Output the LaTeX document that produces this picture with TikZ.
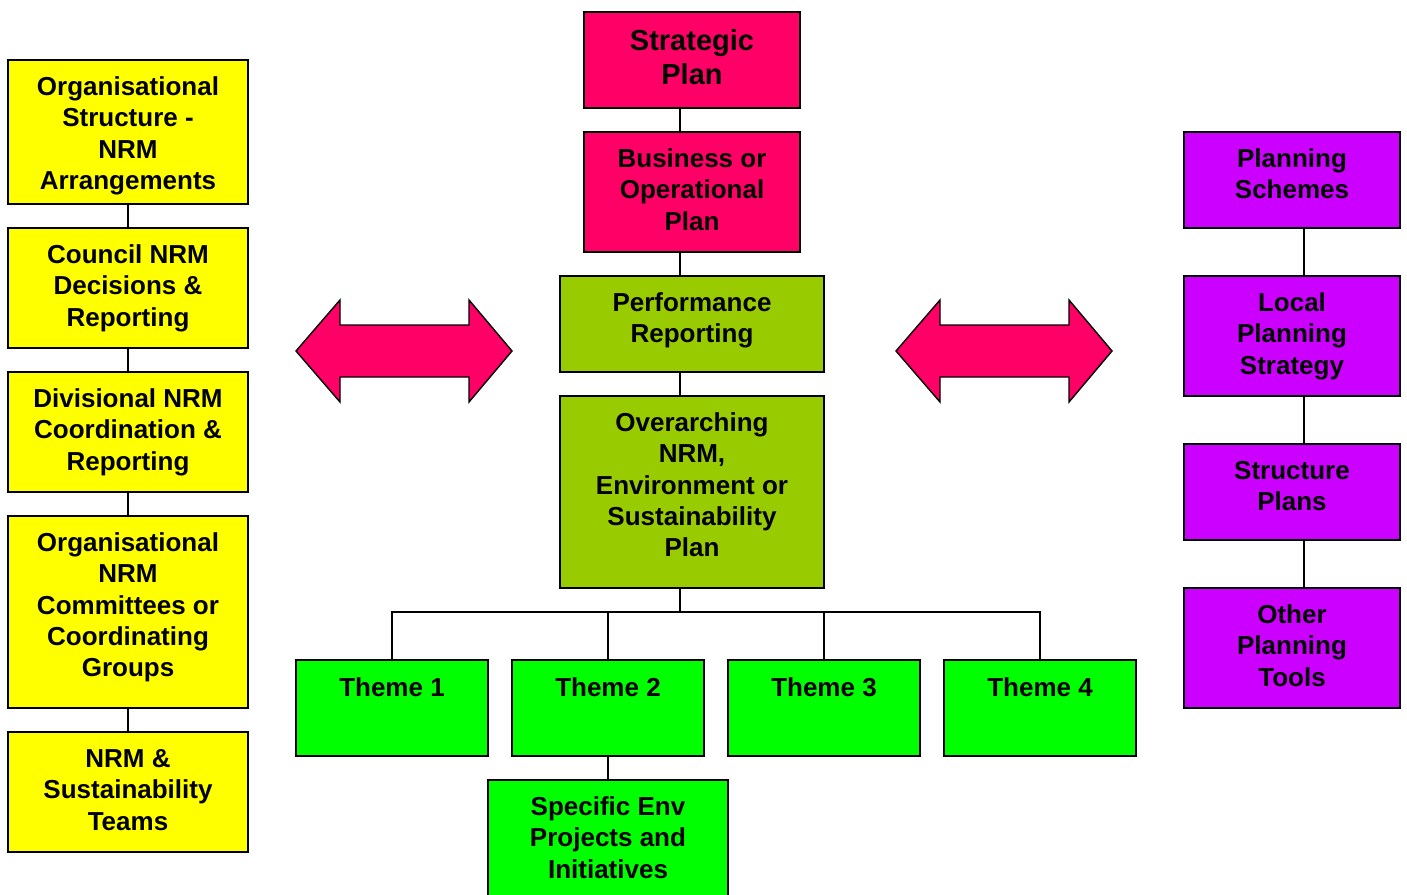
\documentclass[tikz,border=0pt]{standalone}
\usepackage{fontspec}
\setmainfont{Liberation Sans}
\definecolor{cyel}{HTML}{FFFF00}
\definecolor{cpink}{HTML}{FF0066}
\definecolor{colive}{HTML}{99CC00}
\definecolor{cgreen}{HTML}{00FF00}
\definecolor{cpurp}{HTML}{CC00FF}
\newcommand{\firstrule}{\rule{0pt}{20pt}}
\newcommand{\firstrulebig}{\rule{0pt}{22pt}}
\begin{document}
\begin{tikzpicture}[x=1pt,y=-1pt,
  box/.style={draw=black, line width=1.4pt, anchor=north west, inner sep=0pt, outer sep=0pt},
  txt/.style={anchor=north, align=center, inner sep=0pt, font=\fontsize{26}{31.2}\selectfont\bfseries},
  bigtxt/.style={anchor=north, align=center, inner sep=0pt, font=\fontsize{29}{34.5}\selectfont\bfseries},
  conn/.style={draw=black, line width=1.4pt},
  dbl/.style={draw=black, line width=1.4pt, fill=cpink, line join=miter}]
\useasboundingbox[fill=white] (0,0) rectangle (1407,894);

% left column
\node[box, fill=cyel, minimum width=240pt, minimum height=144pt] (o1) at (8,60) {};
\node[box, fill=cyel, minimum width=240pt, minimum height=120pt] (o2) at (8,228) {};
\node[box, fill=cyel, minimum width=240pt, minimum height=120pt] (o3) at (8,372) {};
\node[box, fill=cyel, minimum width=240pt, minimum height=192pt] (o4) at (8,516) {};
\node[box, fill=cyel, minimum width=240pt, minimum height=120pt] (o5) at (8,732) {};
\node[txt] (o1t) at ([yshift=-15.5pt]o1.north) {\firstrule Organisational\\Structure -\\NRM\\Arrangements};
\node[txt] (o2t) at ([yshift=-15.5pt]o2.north) {\firstrule Council NRM\\Decisions \&\\Reporting};
\node[txt] (o3t) at ([yshift=-15.5pt]o3.north) {\firstrule Divisional NRM\\Coordination \&\\Reporting};
\node[txt] (o4t) at ([yshift=-15.5pt]o4.north) {\firstrule Organisational\\NRM\\Committees or\\Coordinating\\Groups};
\node[txt] (o5t) at ([yshift=-15.5pt]o5.north) {\firstrule NRM \&\\Sustainability\\Teams};
\draw[conn] (o1.south) -- (o2.north);
\draw[conn] (o2.south) -- (o3.north);
\draw[conn] (o3.south) -- (o4.north);
\draw[conn] (o4.south) -- (o5.north);

% centre column
\node[box, fill=cpink, minimum width=216pt, minimum height=96pt] (sp) at (584,12) {};
\node[box, fill=cpink, minimum width=216pt, minimum height=120pt] (bo) at (584,132) {};
\node[box, fill=colive, minimum width=264pt, minimum height=96pt] (pr) at (560,276) {};
\node[box, fill=colive, minimum width=264pt, minimum height=192pt] (ov) at (560,396) {};
\node[bigtxt] (spt) at ([yshift=-16pt]sp.north) {\firstrulebig Strategic\\Plan};
\node[txt] (bot) at ([yshift=-15.5pt]bo.north) {\firstrule Business or\\Operational\\Plan};
\node[txt] (prt) at ([yshift=-15.5pt]pr.north) {\firstrule Performance\\Reporting};
\node[txt] (ovt) at ([yshift=-15.5pt]ov.north) {\firstrule Overarching\\NRM,\\Environment or\\Sustainability\\Plan};
\draw[conn] ([xshift=-12pt]sp.south) -- ([xshift=-12pt]bo.north);
\draw[conn] ([xshift=-12pt]bo.south) -- ([xshift=-12pt]pr.north);
\draw[conn] ([xshift=-12pt]pr.south) -- ([xshift=-12pt]ov.north);

% themes
\node[box, fill=cgreen, minimum width=192pt, minimum height=96pt] (t1) at (296,660) {};
\node[box, fill=cgreen, minimum width=192pt, minimum height=96pt] (t2) at (512,660) {};
\node[box, fill=cgreen, minimum width=192pt, minimum height=96pt] (t3) at (728,660) {};
\node[box, fill=cgreen, minimum width=192pt, minimum height=96pt] (t4) at (944,660) {};
\node[box, fill=cgreen, minimum width=240pt, minimum height=120pt] (se) at (488,780) {};
\node[txt] (t1t) at ([yshift=-16pt]t1.north) {\firstrule Theme 1};
\node[txt] (t2t) at ([yshift=-16pt]t2.north) {\firstrule Theme 2};
\node[txt] (t3t) at ([yshift=-16pt]t3.north) {\firstrule Theme 3};
\node[txt] (t4t) at ([yshift=-16pt]t4.north) {\firstrule Theme 4};
\node[txt] (set) at ([yshift=-15.5pt]se.north) {\firstrule Specific Env\\Projects and\\Initiatives};
\coordinate (bus) at (680,612);
\draw[conn] ([xshift=-12pt]ov.south) -- (bus);
\draw[conn] (t1.north) -- (t1.north |- bus) -- (t4.north |- bus) -- (t4.north);
\draw[conn] (t2.north) -- (t2.north |- bus);
\draw[conn] (t3.north) -- (t3.north |- bus);
\draw[conn] (t2.south) -- (se.north);

% right column
\node[box, fill=cpurp, minimum width=216pt, minimum height=96pt] (p1) at (1184,132) {};
\node[box, fill=cpurp, minimum width=216pt, minimum height=120pt] (p2) at (1184,276) {};
\node[box, fill=cpurp, minimum width=216pt, minimum height=96pt] (p3) at (1184,444) {};
\node[box, fill=cpurp, minimum width=216pt, minimum height=120pt] (p4) at (1184,588) {};
\node[txt] (p1t) at ([yshift=-15.5pt]p1.north) {\firstrule Planning\\Schemes};
\node[txt] (p2t) at ([yshift=-15.5pt]p2.north) {\firstrule Local\\Planning\\Strategy};
\node[txt] (p3t) at ([yshift=-15.5pt]p3.north) {\firstrule Structure\\Plans};
\node[txt] (p4t) at ([yshift=-15.5pt]p4.north) {\firstrule Other\\Planning\\Tools};
\draw[conn] ([xshift=12pt]p1.south) -- ([xshift=12pt]p2.north);
\draw[conn] ([xshift=12pt]p2.south) -- ([xshift=12pt]p3.north);
\draw[conn] ([xshift=12pt]p3.south) -- ([xshift=12pt]p4.north);

% double arrows
\draw[dbl] (296,351) -- (340,300) -- (340,325) -- (469,325) -- (469,300) -- (512,351)
  -- (469,402) -- (469,377) -- (340,377) -- (340,402) -- cycle;
\draw[dbl] (896,351) -- (940,300) -- (940,325) -- (1069,325) -- (1069,300) -- (1112,351)
  -- (1069,402) -- (1069,377) -- (940,377) -- (940,402) -- cycle;
\end{tikzpicture}
\end{document}
